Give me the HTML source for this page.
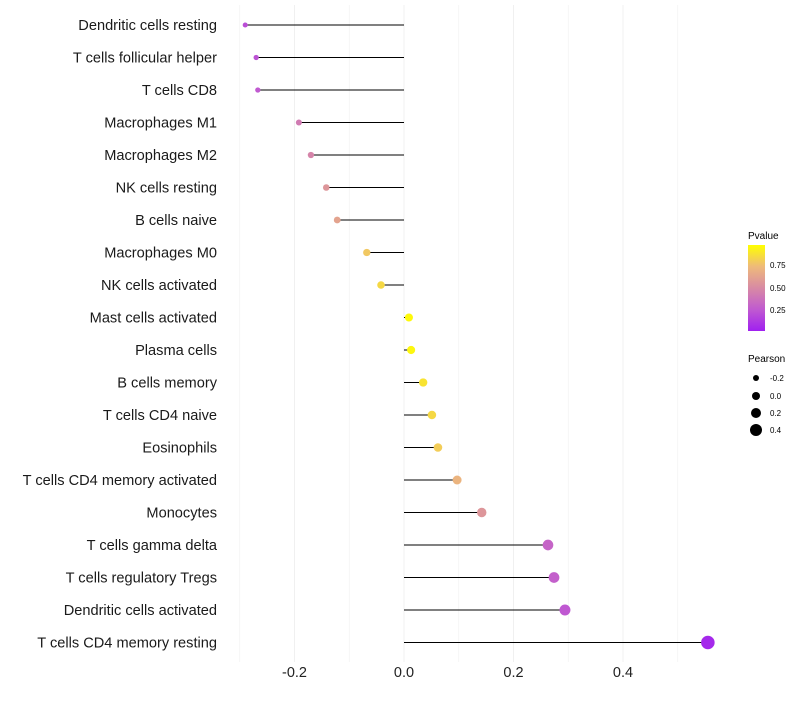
<!DOCTYPE html>
<html><head><meta charset="utf-8"><style>
body{margin:0;background:#fff;}
svg text{font-family:"Liberation Sans",sans-serif;}
</style></head><body>
<svg id="chart" width="800" height="700">
<defs>
<linearGradient id="pg" x1="0" y1="1" x2="0" y2="0">
<stop offset="0" stop-color="#a020f0"/><stop offset="0.25" stop-color="#c05ad0"/><stop offset="0.5" stop-color="#d88aa4"/><stop offset="0.75" stop-color="#eeba7a"/><stop offset="1" stop-color="#ffff00"/>
</linearGradient>
</defs>
<g id="grid"></g>
<g id="marks"></g>
<g id="labels"></g>
<g id="xt"></g>
<g>
<text x="748" y="239" font-size="10">Pvalue</text>
<rect x="748" y="245" width="17" height="86" fill="url(#pg)"/>
<text x="770" y="268" font-size="8">0.75</text>
<text x="770" y="291" font-size="8">0.50</text>
<text x="770" y="313" font-size="8">0.25</text>
</g>
<g>
<text x="748" y="362" font-size="10">Pearson</text>
<circle cx="756" cy="378" r="3"/><text x="770" y="381" font-size="8">-0.2</text>
<circle cx="756" cy="396" r="4"/><text x="770" y="399" font-size="8">0.0</text>
<circle cx="756" cy="413" r="5"/><text x="770" y="416" font-size="8">0.2</text>
<circle cx="756" cy="430" r="6"/><text x="770" y="433" font-size="8">0.4</text>
</g>
</svg>
<script>
const categories=["Dendritic cells resting","T cells follicular helper","T cells CD8","Macrophages M1","Macrophages M2","NK cells resting","B cells naive","Macrophages M0","NK cells activated","Mast cells activated","Plasma cells","B cells memory","T cells CD4 naive","Eosinophils","T cells CD4 memory activated","Monocytes","T cells gamma delta","T cells regulatory  Tregs","Dendritic cells activated","T cells CD4 memory resting"];
const pearson=[-0.290,-0.270,-0.267,-0.192,-0.170,-0.142,-0.122,-0.068,-0.042,0.009,0.013,0.035,0.051,0.062,0.097,0.142,0.263,0.274,0.294,0.555];
const pvalue=[0.2,0.22,0.25,0.42,0.47,0.56,0.63,0.8,0.86,0.98,0.97,0.9,0.86,0.82,0.72,0.56,0.3,0.28,0.24,0.04];
const xTicks=[-0.2,0,0.2,0.4];
const xTickLabels=["-0.2","0.0","0.2","0.4"];
const NS="http://www.w3.org/2000/svg";
const xs=v=>404+v*547.5;
const ys=i=>25+i*32.5;
function lerp(a,b,t){return Math.round(a+(b-a)*t);}
const stops=[[0,[160,32,240]],[0.25,[192,90,208]],[0.5,[216,138,164]],[0.75,[238,186,122]],[1,[255,255,0]]];
function col(p){for(let k=0;k<stops.length-1;k++){const[a,ca]=stops[k],[b,cb]=stops[k+1];if(p<=b){const t=(p-a)/(b-a);return `rgb(${lerp(ca[0],cb[0],t)},${lerp(ca[1],cb[1],t)},${lerp(ca[2],cb[2],t)})`;}}return "rgb(255,255,0)";}
function mk(tag,at,parent){const e=document.createElementNS(NS,tag);for(const k in at)e.setAttribute(k,at[k]);document.getElementById(parent).appendChild(e);return e;}
for(let v=-0.3;v<=0.51;v+=0.1){const g=mk("line",{x1:xs(v),x2:xs(v),y1:5,y2:662,stroke:"#f0f0f0","stroke-width":Math.abs(Math.round(v*10))%2==1?0.6:1},"grid");

}
xTicks.forEach((v,i)=>{const t=mk("text",{x:xs(v),y:677,"font-size":14.5,"text-anchor":"middle",fill:"#222"},"xt");t.textContent=xTickLabels[i];

});
categories.forEach((c,i)=>{const y=ys(i);
const l=mk("line",{x1:xs(0),x2:xs(pearson[i]),y1:y,y2:y,stroke:"#000","stroke-width":1},"marks");


const d=mk("circle",{cx:xs(pearson[i]),cy:y,r:Math.max(1.5,4+5*pearson[i]),fill:col(pvalue[i])},"marks");


const t=mk("text",{x:217,y:y+5,"font-size":14.6,"text-anchor":"end",fill:"#1a1a1a"},"labels");t.textContent=c;

});
</script>
</body></html>
